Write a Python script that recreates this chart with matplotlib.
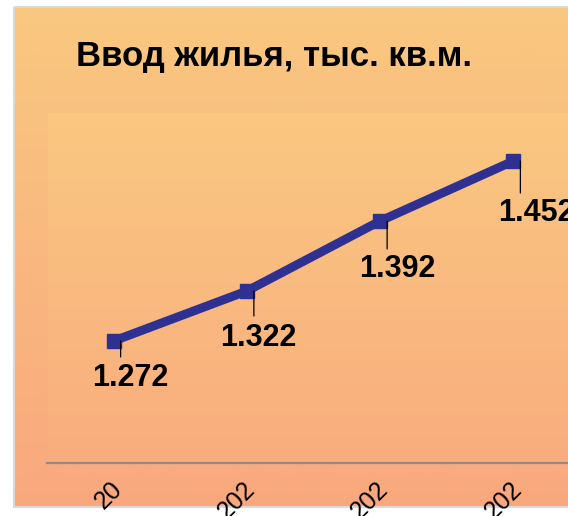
import numpy as np
import matplotlib
matplotlib.use('Agg')
import matplotlib.pyplot as plt
from matplotlib.patches import Rectangle
from matplotlib.transforms import offset_copy, ScaledTranslation

# data
categories = ['20', '202', '202', '202']
values = [1.272, 1.322, 1.392, 1.452]
title = 'Ввод жилья, тыс. кв.м.'

# label placement (pixels): text centre shift, text top drop, leader length
label_dx = [17, 11, 17, 23]
label_dy = [22, 32, 33, 37]
leader_len = [16, 25, 28, 32]

W, H = 568, 516
plt.rcParams['font.family'] = ['Liberation Sans', 'DejaVu Sans']

fig = plt.figure(figsize=(W / 100, H / 100), dpi=100)
fig.patch.set_facecolor('white')

# background layer in pixel coordinates
bg = fig.add_axes([0, 0, 1, 1])
bg.set_xlim(0, W)
bg.set_ylim(H, 0)
bg.axis('off')


def gradient(top, bottom):
    t = np.linspace(0, 1, 256)[:, None]
    top = np.array(top) / 255.0
    bottom = np.array(bottom) / 255.0
    return (top + (bottom - top) * t)[:, None, :].repeat(2, axis=1)


bg.imshow(gradient((249, 200, 128), (249, 168, 126)), extent=[14, W + 2, 507, 7],
          aspect='auto', interpolation='bicubic', zorder=0)
bg.imshow(gradient((250, 200, 129), (249, 173, 126)), extent=[48, W + 2, 463, 113],
          aspect='auto', interpolation='bicubic', zorder=1)
bg.add_patch(Rectangle((14, 7), W, 500, fill=False, edgecolor='#D9D9D9', lw=1.5, zorder=2))
bg.set_xlim(0, W)
bg.set_ylim(H, 0)

fig.text(274 / W, (H - 66) / H, title, ha='center', va='baseline',
         fontsize=25, fontweight='bold', color='black')

# chart axes
ax = fig.add_axes([47 / W, (H - 463) / H, 533 / W, 350 / H])
ax.patch.set_visible(False)
x = np.arange(1, len(values) + 1)
ax.set_xlim(0.5, 4.5)
ax.set_ylim(1.15, 1.5)

ax.plot(x, values, color='#2E3192', lw=6.4, marker='s', ms=10,
        solid_joinstyle='miter', clip_on=False, zorder=3)

for xi, v, dx, dy, ll in zip(x, values, label_dx, label_dy, leader_len):
    ax.annotate('', xy=(xi, v), xycoords=offset_copy(ax.transData, fig=fig, x=7, y=0, units='dots'),
                xytext=(xi, v), textcoords=offset_copy(ax.transData, fig=fig, x=7, y=-ll, units='dots'),
                arrowprops=dict(arrowstyle='-', color='black', lw=0.9, shrinkA=0, shrinkB=0),
                annotation_clip=False, zorder=4)
    ax.annotate(f'{v:.3f}', xy=(xi, v), xytext=(dx, -dy), textcoords='offset pixels',
                ha='center', va='top', fontsize=22, fontweight='bold', color='black',
                annotation_clip=False, zorder=5)

ax.set_xticks(x)
ax.set_xticklabels(categories, rotation=45, ha='right', va='top',
                   rotation_mode='anchor', fontsize=18)
ax.tick_params(axis='x', length=0, pad=10)
shift = ScaledTranslation(-4 / 100, 0, fig.dpi_scale_trans)
for lbl in ax.get_xticklabels():
    lbl.set_transform(lbl.get_transform() + shift)
ax.set_yticks([])
for side in ['left', 'top', 'right']:
    ax.spines[side].set_visible(False)
ax.spines['bottom'].set_color('#8C8C8C')
ax.spines['bottom'].set_linewidth(1.6)

fig.savefig('out.png', dpi=100)
